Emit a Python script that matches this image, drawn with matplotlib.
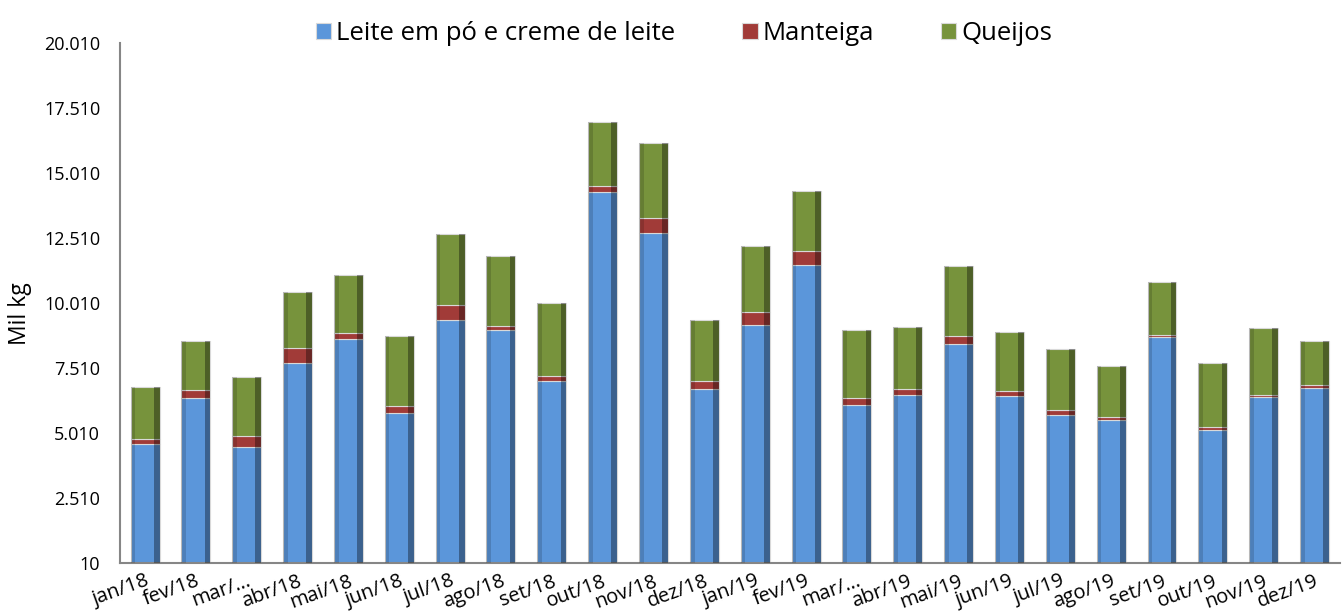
import matplotlib
matplotlib.use('Agg')
import matplotlib.pyplot as plt
from matplotlib.ticker import FuncFormatter, FixedLocator
import numpy as np

plt.rcParams['font.family'] = ['Open Sans', 'DejaVu Sans']

months = ['jan/18', 'fev/18', 'mar/…', 'abr/18', 'mai/18', 'jun/18',
          'jul/18', 'ago/18', 'set/18', 'out/18', 'nov/18', 'dez/18',
          'jan/19', 'fev/19', 'mar/…', 'abr/19', 'mai/19', 'jun/19',
          'jul/19', 'ago/19', 'set/19', 'out/19', 'nov/19', 'dez/19']

leite = [4575, 6345, 4460, 7715, 8625, 5790, 9355, 8970, 7010, 14265, 12715, 6715,
         9165, 11485, 6085, 6460, 8435, 6420, 5690, 5510, 8690, 5135, 6385, 6730]
manteiga = [190, 320, 435, 575, 220, 270, 575, 165, 190, 240, 575, 305,
            490, 525, 270, 230, 320, 215, 190, 125, 100, 90, 100, 115]
queijos = [2025, 1885, 2270, 2130, 2240, 2670, 2755, 2680, 2795, 2475, 2885, 2325,
           2560, 2305, 2605, 2395, 2690, 2245, 2370, 1950, 2040, 2485, 2575, 1695]

series = [
    ('Leite em pó e creme de leite', leite, '#5B96DA'),
    ('Manteiga', manteiga, '#A13B38'),
    ('Queijos', queijos, '#77933C'),
]

fig = plt.figure(figsize=(13.44, 6.16), dpi=100)
ax = fig.add_axes([0.089, 0.086, 0.908, 0.844])

x = np.arange(len(months))
width = 0.57
bottom = np.zeros(len(months))
handles = []
for name, vals, color in series:
    vals = np.array(vals, dtype=float)
    b = ax.bar(x, vals, width, bottom=bottom, color=color, label=name,
               edgecolor='#d9d9d9', linewidth=0.8, zorder=2)
    # darker sides to hint at the bevel look
    ax.bar(x + width * 0.40, vals, width * 0.2, bottom=bottom, color='black',
           alpha=0.35, linewidth=0, zorder=3)
    ax.bar(x - width * 0.42, vals, width * 0.16, bottom=bottom, color='black',
           alpha=0.15, linewidth=0, zorder=3)
    handles.append(b)
    bottom += vals

ax.set_xlim(-0.5, len(months) - 0.5)
ax.set_ylim(10, 20010)
ax.yaxis.set_major_locator(FixedLocator(np.arange(10, 20011, 2500)))
ax.yaxis.set_major_formatter(FuncFormatter(lambda v, p: f'{int(round(v)):,}'.replace(',', '.')))
ax.tick_params(axis='y', length=0, labelsize=13, pad=14)
ax.tick_params(axis='x', length=0, labelsize=14.5, pad=6)
ax.set_xticks(x)
ax.set_xticklabels(months, rotation=20, ha='right', rotation_mode='anchor')

ax.set_ylabel('Mil kg', fontsize=16.5, labelpad=12)
ax.yaxis.set_label_coords(-0.072, 0.48)

for s in ['top', 'right']:
    ax.spines[s].set_visible(False)
for s in ['left', 'bottom']:
    ax.spines[s].set_color('#868686')
    ax.spines[s].set_linewidth(1.5)

fig.legend(handles=handles, loc='center', bbox_to_anchor=(0.509, 0.946), ncol=3,
           frameon=False, fontsize=18.5, handlelength=0.6, handleheight=0.6,
           handletextpad=0.2, columnspacing=2.6)

fig.savefig('out.png', dpi=100)
